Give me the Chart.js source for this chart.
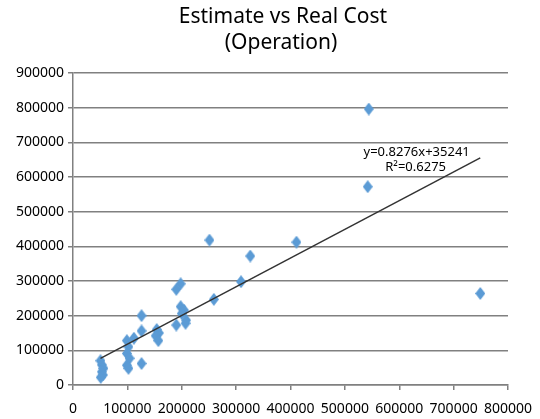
<!DOCTYPE html>
<html>
<head>
<meta charset="utf-8">
<script src="https://cdn.jsdelivr.net/npm/chart.js@4.4.1/dist/chart.umd.min.js"></script>
<style>
  html, body { margin: 0; padding: 0; background: #ffffff; }
  #wrap { width: 540px; height: 419px; position: relative; }
</style>
</head>
<body>
<div id="wrap"><canvas id="c" width="540" height="419"></canvas></div>
<script>
// Estimated cost (x) and real cost (y)
const estimateValues = [
  50500, 53000, 56000, 53000, 55000, 51000,
  99000, 102000, 99000, 104000, 99000, 102000, 112000,
  126000, 126000, 126000,
  154000, 158000, 152000, 157000,
  198000, 190000, 198000, 204000, 200000, 208000, 207000, 190000,
  251000, 259000, 309000, 326000, 411000, 542000, 544000, 749000
];
const realValues = [
  70000, 58000, 48000, 38000, 29000, 22000,
  128000, 110000, 91000, 77000, 57000, 48000, 135000,
  200000, 156000, 62000,
  160000, 150000, 142000, 128000,
  292000, 276000, 226000, 216000, 206000, 187000, 178000, 173000,
  418000, 247000, 298000, 372000, 412000, 572000, 796000, 264000
];
const trendSlope = 0.8276;
const trendIntercept = 35241;
const trendLabels = ['y=0.8276x+35241', 'R\u00B2=0.6275'];
const titleLines = ['Estimate vs Real Cost', '(Operation)'];
const xTicks = [0, 100000, 200000, 300000, 400000, 500000, 600000, 700000, 800000];
const yTicks = [0, 100000, 200000, 300000, 400000, 500000, 600000, 700000, 800000, 900000];

const points = estimateValues.map((x, i) => ({ x: x, y: realValues[i] }));
const xMin = Math.min(...estimateValues);
const xMax = Math.max(...estimateValues);
const trendPoints = [xMin, xMax].map(x => ({ x: x, y: trendSlope * x + trendIntercept }));

// diamond marker
const marker = document.createElement('canvas');
marker.width = 10; marker.height = 13;
(function () {
  const g = marker.getContext('2d');
  g.fillStyle = '#5b9bd5';
  g.beginPath();
  g.moveTo(5, 0); g.lineTo(10, 6.5); g.lineTo(5, 13); g.lineTo(0, 6.5);
  g.closePath(); g.fill();
})();

const FONT = "'Noto Sans', 'Open Sans', sans-serif";
const gridColor = '#808080';

const titlePlugin = {
  id: 'twoLineTitle',
  afterDraw(chart) {
    const ctx = chart.ctx;
    ctx.save();
    ctx.fillStyle = '#000000';
    ctx.font = '21px ' + FONT;
    ctx.textAlign = 'center';
    ctx.textBaseline = 'middle';
    ctx.fillText(titleLines[0], 283, 17);
    ctx.fillText(titleLines[1], 281, 43);
    ctx.restore();
  }
};

const trendTextPlugin = {
  id: 'trendText',
  afterDatasetsDraw(chart) {
    const ctx = chart.ctx;
    const xs = chart.scales.x, ys = chart.scales.y;
    const cx = xs.getPixelForValue(632000);
    const cy = ys.getPixelForValue(672000);
    ctx.save();
    ctx.fillStyle = '#000000';
    ctx.font = '13px ' + FONT;
    ctx.textAlign = 'center';
    ctx.textBaseline = 'middle';
    ctx.fillText(trendLabels[0], cx, cy);
    ctx.fillText(trendLabels[1], cx - 1, cy + 15);
    ctx.restore();
  }
};

new Chart(document.getElementById('c'), {
  type: 'scatter',
  data: {
    datasets: [
      {
        label: 'Trend',
        type: 'line',
        data: trendPoints,
        borderColor: '#333333',
        borderWidth: 1.5,
        pointRadius: 0,
        fill: false,
        order: 0
      },
      {
        label: 'Real Cost',
        data: points,
        pointStyle: marker,
        pointRadius: 6,
        order: 1
      }
    ]
  },
  options: {
    responsive: false,
    animation: false,
    devicePixelRatio: 1,
    layout: { padding: { left: 0, right: 32, top: 73, bottom: 0 } },
    plugins: {
      legend: { display: false },
      tooltip: { enabled: false },
      title: { display: false }
    },
    scales: {
      x: {
        type: 'linear',
        min: 0, max: 800000,
        afterBuildTicks: s => { s.ticks = xTicks.map(v => ({ value: v })); },
        afterFit: s => { s.height = 34; s.paddingLeft = 0; s.paddingRight = 0; },
        ticks: { color: '#000000', font: { family: FONT, size: 14 }, padding: 11, maxRotation: 0, autoSkip: false,
                 callback: v => String(v) },
        grid: { display: true, drawOnChartArea: false, drawTicks: true, tickLength: 5, color: gridColor, lineWidth: 1.5 },
        border: { display: true, color: gridColor, width: 1.5 }
      },
      y: {
        type: 'linear',
        min: 0, max: 900000,
        afterBuildTicks: s => { s.ticks = yTicks.map(v => ({ value: v })); },
        afterFit: s => { s.width = 73; s.paddingTop = 0; s.paddingBottom = 0; },
        ticks: { color: '#000000', font: { family: FONT, size: 14 }, padding: 4, autoSkip: false,
                 callback: v => String(v) },
        grid: { display: true, drawOnChartArea: true, drawTicks: true, tickLength: 5, color: gridColor, lineWidth: 1.5 },
        border: { display: true, color: gridColor, width: 1.5 }
      }
    }
  },
  plugins: [trendTextPlugin, titlePlugin]
});
</script>
</body>
</html>
